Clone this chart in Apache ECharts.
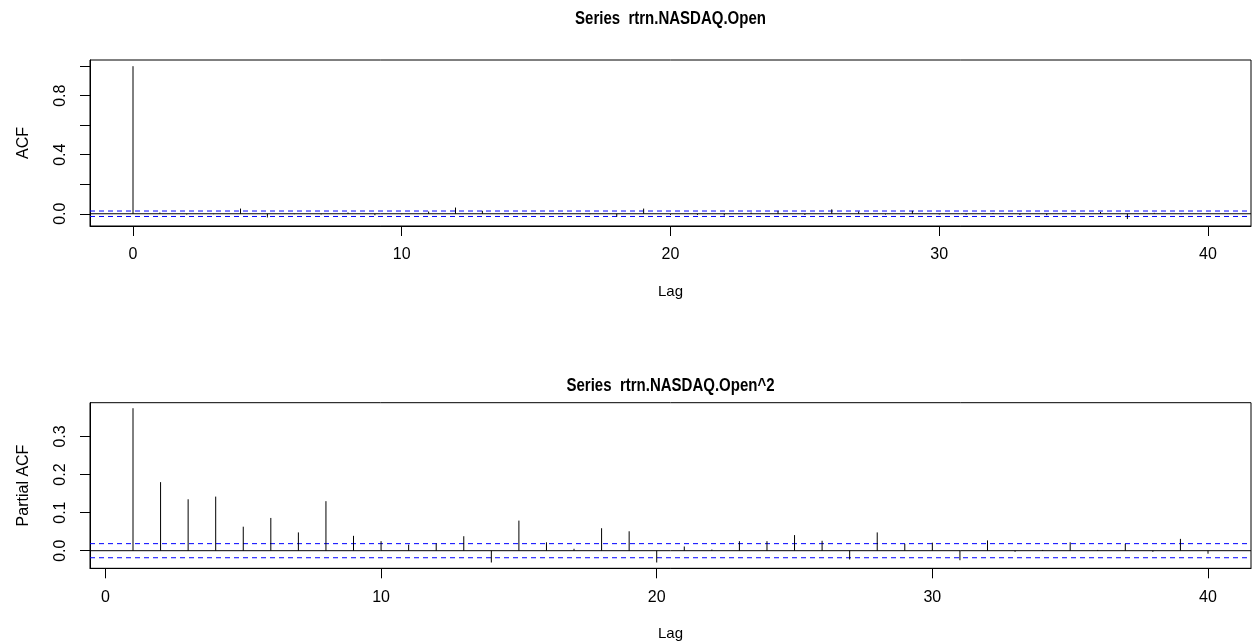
<!DOCTYPE html>
<html>
<head>
<meta charset="utf-8">
<script src="https://cdn.jsdelivr.net/npm/echarts@6/dist/echarts.min.js"></script>
<style>html,body{margin:0;padding:0;background:#fff;}#c{width:1257px;height:644px;}</style>
</head>
<body>
<div id="c"></div>
<script>
// ---- data ----
const acfLags = [0,1,2,3,4,5,6,7,8,9,10,11,12,13,14,15,16,17,18,19,20,21,22,23,24,25,26,27,28,29,30,31,32,33,34,35,36,37,38,39,40];
const acfValues = [1.0,0.008,-0.005,-0.003,0.035,-0.025,-0.003,-0.005,0.008,-0.01,-0.003,0.015,0.042,0.02,-0.003,0.003,0.005,-0.003,-0.02,0.035,-0.008,-0.008,-0.012,0.008,0.02,-0.008,0.03,0.015,-0.005,0.02,-0.005,-0.006,0.005,-0.008,-0.01,0.003,0.012,-0.036,0.006,-0.003,0.003];
const pacfLags = [1,2,3,4,5,6,7,8,9,10,11,12,13,14,15,16,17,18,19,20,21,22,23,24,25,26,27,28,29,30,31,32,33,34,35,36,37,38,39,40];
const pacfValues = [0.374,0.18,0.135,0.142,0.063,0.086,0.048,0.130,0.039,0.025,0.016,0.019,0.038,-0.031,0.079,0.022,0.005,0.059,0.051,-0.031,0.011,0.003,0.025,0.025,0.041,0.026,-0.023,0.048,0.018,0.021,-0.025,0.027,-0.003,0.002,0.022,0.002,0.018,-0.003,0.031,-0.008];
const confLimit = 0.0185;
const xTicks = [0,10,20,30,40];
const acfYTicks = [0,0.2,0.4,0.6,0.8,1.0];
const acfYLabels = [0,0.4,0.8];
const pacfYTicks = [0,0.1,0.2,0.3];
const acfXRange = [-1.6, 41.6];
const pacfXRange = [-0.56, 41.56];
const acfYRange = [-0.083, 1.042];
const pacfYRange = [-0.0462, 0.3885];
const titleTop = 'Series  rtrn.NASDAQ.Open';
const titleBottom = 'Series  rtrn.NASDAQ.Open^2';

const FONT = "'Liberation Sans', Arial, Helvetica, sans-serif";
const BLUE = '#0000ff';
const chart = echarts.init(document.getElementById('c'), null, {renderer:'canvas'});

function stem(params, api){
  const x = api.value(0), y = api.value(1);
  const p0 = api.coord([x,0]), p1 = api.coord([x,y]);
  return {type:'line', shape:{x1:p0[0],y1:p0[1],x2:p1[0],y2:p1[1]}, style:{stroke:'#000', lineWidth:1}};
}
function hline(idx, range, y, color, type){
  return {type:'line', xAxisIndex:idx, yAxisIndex:idx, data:[[range[0],y],[range[1],y]],
    symbol:'none', silent:true, lineStyle:{color:color, width:1, type:type},
    itemStyle:{color:color}, emphasis:{disabled:true}, z:1};
}
function xAxis(idx, range){
  return {type:'value', gridIndex:idx, min:range[0], max:range[1],
    name:'Lag', nameLocation:'middle', nameGap:58,
    nameTextStyle:{fontFamily:FONT, fontSize:15, color:'#000'},
    axisLine:{show:true, onZero:false, lineStyle:{color:'#000', width:1}},
    axisTick:{show:true, inside:false, length:10, customValues:xTicks, lineStyle:{color:'#000'}},
    axisLabel:{customValues:xTicks, fontFamily:FONT, fontSize:16, color:'#000', margin:21},
    splitLine:{show:false}};
}
function yAxis(idx, range, ticks, labels, name){
  return {type:'value', gridIndex:idx, min:range[0], max:range[1],
    name:name, nameLocation:'middle', nameGap:58, nameRotate:90,
    nameTextStyle:{fontFamily:FONT, fontSize:16, color:'#000'},
    axisLine:{show:true, onZero:false, lineStyle:{color:'#000', width:1}},
    axisTick:{show:true, inside:false, length:10, customValues:ticks, lineStyle:{color:'#000'}},
    axisLabel:{customValues:labels, rotate:90, fontFamily:FONT, fontSize:16, color:'#000', margin:21,
      formatter:v=>v.toFixed(1)},
    splitLine:{show:false}};
}

chart.setOption({
  animation:false,
  backgroundColor:'#fff',
  grid:[
    {left:90, right:6, top:60, height:166, show:true, borderColor:'#000', borderWidth:1, backgroundColor:'transparent'},
    {left:90, right:6, top:402.7, height:165.6, show:true, borderColor:'#000', borderWidth:1, backgroundColor:'transparent'}
  ],
  xAxis:[xAxis(0,acfXRange), xAxis(1,pacfXRange)],
  yAxis:[yAxis(0,acfYRange,acfYTicks,acfYLabels,'ACF'), yAxis(1,pacfYRange,pacfYTicks,pacfYTicks,'Partial ACF')],
  graphic:[
    {type:'text', x:670.5, y:19, scaleY:1.25, style:{text:titleTop, font:"bold 15px "+FONT, fill:'#000', align:'center', verticalAlign:'middle'}, silent:true},
    {type:'text', x:670.5, y:386, scaleY:1.25, style:{text:titleBottom, font:"bold 15px "+FONT, fill:'#000', align:'center', verticalAlign:'middle'}, silent:true}
  ],
  series:[
    hline(0, acfXRange, 0, '#000', 'solid'),
    hline(0, acfXRange, confLimit, BLUE, [5,4]),
    hline(0, acfXRange, -confLimit, BLUE, [5,4]),
    {type:'custom', xAxisIndex:0, yAxisIndex:0, renderItem:stem, data:acfLags.map((l,i)=>[l,acfValues[i]]), silent:true, z:2},
    hline(1, pacfXRange, 0, '#000', 'solid'),
    hline(1, pacfXRange, confLimit, BLUE, [5,4]),
    hline(1, pacfXRange, -confLimit, BLUE, [5,4]),
    {type:'custom', xAxisIndex:1, yAxisIndex:1, renderItem:stem, data:pacfLags.map((l,i)=>[l,pacfValues[i]]), silent:true, z:2}
  ]
});
</script>
</body>
</html>
